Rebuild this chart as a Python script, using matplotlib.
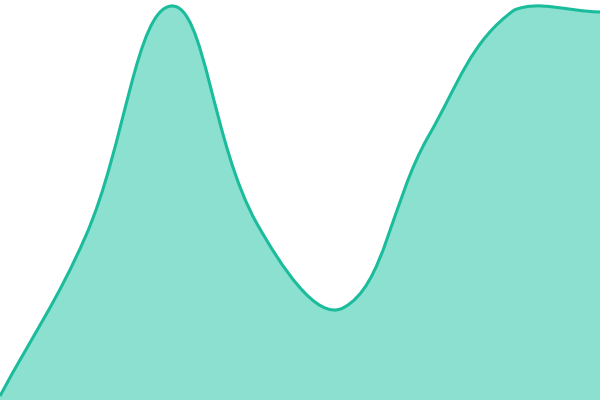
import matplotlib
matplotlib.use("Agg")
import matplotlib.pyplot as plt
from matplotlib.path import Path
from matplotlib.patches import PathPatch
import numpy as np

categories = ["A", "B", "C", "D", "E", "F", "G", "H"]
values = [1, 41, 98.5, 44, 23, 66, 97.5, 97]

TENSION = 0.4
LINE = "#1abc9c"
FILL = "#8be0d0"

fig = plt.figure(figsize=(6, 4), dpi=100)
ax = fig.add_axes([0, 0, 1, 1])
xmin, xmax = 0, len(categories) - 1
ymin, ymax = 0, 100
ax.set_xlim(xmin, xmax)
ax.set_ylim(ymin, ymax)
ax.axis("off")

xs = np.arange(len(values), dtype=float)
ys = np.array(values, dtype=float)

# Chart.js-style spline control points computed in display space
fig.canvas.draw()
pts = ax.transData.transform(np.column_stack([xs, ys]))
n = len(pts)
cps_prev = np.zeros_like(pts)
cps_next = np.zeros_like(pts)
for i in range(n):
    p0 = pts[i - 1] if i > 0 else pts[i]
    p1 = pts[i]
    p2 = pts[i + 1] if i < n - 1 else pts[i]
    d01 = np.hypot(*(p1 - p0))
    d12 = np.hypot(*(p2 - p1))
    tot = d01 + d12
    s01 = d01 / tot if tot else 0
    s12 = d12 / tot if tot else 0
    cps_prev[i] = p1 - TENSION * s01 * (p2 - p0)
    cps_next[i] = p1 + TENSION * s12 * (p2 - p0)

inv = ax.transData.inverted()
cps_prev = inv.transform(cps_prev)
cps_next = inv.transform(cps_next)
for c in (cps_prev, cps_next):
    c[:, 0] = np.clip(c[:, 0], xmin, xmax)
    c[:, 1] = np.clip(c[:, 1], ymin, ymax)

verts = [(xs[0], ys[0])]
codes = [Path.MOVETO]
for i in range(1, n):
    verts += [tuple(cps_next[i - 1]), tuple(cps_prev[i]), (xs[i], ys[i])]
    codes += [Path.CURVE4] * 3

line_path = Path(verts, codes)
fill_verts = verts + [(xs[-1], ymin), (xs[0], ymin), (xs[0], ys[0])]
fill_codes = codes + [Path.LINETO, Path.LINETO, Path.CLOSEPOLY]
fill_path = Path(fill_verts, fill_codes)

ax.add_patch(PathPatch(fill_path, facecolor=FILL, edgecolor="none"))
ax.add_patch(PathPatch(line_path, facecolor="none", edgecolor=LINE, linewidth=2.2,
                       clip_on=False))

fig.savefig("out.png", dpi=100)
